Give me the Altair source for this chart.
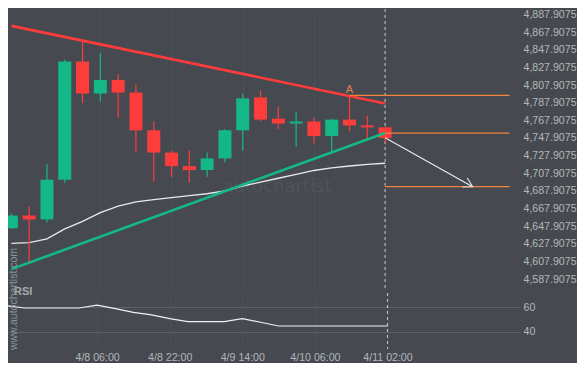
import altair as alt
import pandas as pd

# ---------------- data ----------------
idx = list(range(22))
opens  = [4645.6, 4659.9, 4655.5, 4700.5, 4834.6, 4798.3, 4813.7, 4799.4, 4756.6, 4731.3, 4715.9,
          4711.5, 4724.7, 4756.6, 4793.9, 4769.8, 4764.3, 4766.5, 4750.0, 4768.7, 4762.1, 4759.9]
highs  = [4662.1, 4669.8, 4718.1, 4836.8, 4857.7, 4844.5, 4820.3, 4808.2, 4766.5, 4733.5, 4733.5,
          4731.3, 4757.7, 4798.3, 4801.6, 4783.0, 4777.5, 4770.9, 4769.8, 4796.1, 4773.1, 4759.9]
lows   = [4644.5, 4607.1, 4652.2, 4697.2, 4787.4, 4789.5, 4770.9, 4731.3, 4698.3, 4703.8, 4697.2,
          4703.8, 4720.3, 4733.5, 4766.5, 4757.7, 4737.9, 4741.2, 4732.4, 4755.5, 4746.7, 4742.3]
closes = [4659.9, 4655.5, 4700.5, 4834.6, 4798.3, 4813.7, 4799.4, 4756.6, 4731.3, 4715.9, 4711.5,
          4724.7, 4756.6, 4792.8, 4768.7, 4764.3, 4766.5, 4750.0, 4768.7, 4762.1, 4759.9, 4747.8]
ma     = [4628.3, 4629.1, 4633.5, 4644.8, 4653.3, 4663.2, 4670.5, 4675.3, 4678.0, 4680.2, 4682.4,
          4684.6, 4687.9, 4693.4, 4697.8, 4702.2, 4706.6, 4711.0, 4713.9, 4716.1, 4717.9, 4719.2]
rsi    = [61.5, 59.6, 59.6, 59.6, 59.6, 62.0, 59.0, 56.0, 53.8, 50.7, 48.2,
          48.2, 48.2, 50.7, 47.7, 44.6, 44.6, 44.6, 44.6, 44.6, 44.6, 44.6]

tick_idx = [5, 9, 13, 17, 21]
tick_labels = ["4/8 06:00", "4/8 22:00", "4/9 14:00", "4/10 06:00", "4/11 02:00"]
price_ticks = [4587.9075 + 20 * k for k in range(16)]
rsi_ticks = [40, 60]

res_x = [0, 21]
res_y = [4875.0, 4787.0]
sup_x = [0, 21]
sup_y = [4599.1, 4753.6]

level_x = [19, 21, 21]
level_x2 = [28.0, 28.0, 28.0]
level_y = [4796.1, 4753.3, 4692.8]

arrow_x = [21, 25.92]
arrow_y = [4748.1, 4692.5]

now_idx = [21]
pattern_label = ["A"]
pattern_x = [19]
pattern_y = [4796.1]

# ---------------- styling ----------------
BG = "#464a50"
GREEN = "#14b886"
RED = "#fd3c3c"
ORANGE = "#f2823c"
LABEL = "#b3b6ba"
FONT = "Liberation Sans"
X_DOMAIN = [0.091, 28.3]
P_DOMAIN = [4574.31, 4894.15]
R_DOMAIN = [25.42, 72.08]
W = 512

df = pd.DataFrame(dict(i=idx, open=opens, high=highs, low=lows, close=closes, ma=ma, rsi=rsi))
df["dir"] = ["up" if c >= o else "down" for o, c in zip(opens, closes)]
df["btop"] = [max(o, c) for o, c in zip(opens, closes)]
df["bbot"] = [min(o, c) for o, c in zip(opens, closes)]

xs = alt.Scale(domain=X_DOMAIN, nice=False, zero=False)
ps = alt.Scale(domain=P_DOMAIN, nice=False, zero=False)
rs = alt.Scale(domain=R_DOMAIN, nice=False, zero=False)

x_price_axis = alt.Axis(values=tick_idx, grid=True, gridColor="#4c5056", labels=False,
                        ticks=False, domain=False, title=None)
y_price_axis = alt.Axis(orient="right", values=price_ticks, format=",.4f", grid=False,
                        ticks=False, domain=False, title=None, labelColor=LABEL,
                        labelFont=FONT, labelFontSize=10.6, labelPadding=3)


def PX(field="i"):
    return alt.X(f"{field}:Q", scale=xs, axis=x_price_axis)


def PY(field):
    return alt.Y(f"{field}:Q", scale=ps, axis=y_price_axis)


color = alt.Color("dir:N", scale=alt.Scale(domain=["up", "down"], range=[GREEN, RED]), legend=None)

base = alt.Chart(df)

wm = alt.Chart(pd.DataFrame({"t": ["autochartist"]})).mark_text(
    font="DejaVu Sans", fontSize=18, color="#4f5359", align="center", baseline="middle"
).encode(text="t:N", x=alt.value(269), y=alt.value(178))

now_rule = alt.Chart(pd.DataFrame({"i": now_idx})).mark_rule(
    color="#c9c9c9", strokeDash=[3, 3], strokeWidth=1
).encode(x=PX())

ma_line = base.mark_line(color="#e8e8e8", strokeWidth=1.3, clip=True).encode(x=PX(), y=PY("ma"))

wicks = base.mark_rule(strokeWidth=1.2, clip=True).encode(x=PX(), y=PY("low"), y2="high:Q", color=color)
bodies = base.mark_bar(size=13, clip=True).encode(x=PX(), y=PY("bbot"), y2="btop:Q", color=color)

res = alt.Chart(pd.DataFrame({"i": res_x, "v": res_y})).mark_line(
    color="#ff3b3b", strokeWidth=2.6, clip=True).encode(x=PX(), y=PY("v"))
sup = alt.Chart(pd.DataFrame({"i": sup_x, "v": sup_y})).mark_line(
    color=GREEN, strokeWidth=2.6, clip=True).encode(x=PX(), y=PY("v"))

levels = alt.Chart(pd.DataFrame({"i": level_x, "i2": level_x2, "v": level_y})).mark_rule(
    color=ORANGE, strokeWidth=1.3).encode(x=PX(), x2="i2:Q", y=PY("v"))

arrow = alt.Chart(pd.DataFrame({"i": arrow_x, "v": arrow_y})).mark_line(
    color="#ececec", strokeWidth=1.1).encode(x=PX(), y=PY("v"))
arrow_head = alt.Chart(pd.DataFrame({"i": arrow_x[-1:], "v": arrow_y[-1:]})).mark_point(
    shape="M-2,-1.15L0,0L-2,1.15", filled=False, size=80, strokeWidth=1.1,
    color="#ececec", angle=29, opacity=1).encode(x=PX(), y=PY("v"))

a_label = alt.Chart(pd.DataFrame({"i": pattern_x, "v": pattern_y, "t": pattern_label})).mark_text(
    color="#e0844f", font=FONT, fontSize=11, baseline="alphabetic", dy=-2, align="center"
).encode(x=PX(), y=PY("v"), text="t:N")

price = alt.layer(wm, now_rule, ma_line, wicks, bodies, res, sup, levels, arrow, arrow_head, a_label
                  ).properties(width=W, height=282)

# ---------------- RSI panel ----------------
label_expr = " : ".join(f"datum.value == {t} ? '{l}'" for t, l in zip(tick_idx, tick_labels)) + " : ''"
x_rsi_axis = alt.Axis(values=tick_idx, labelExpr=label_expr, grid=True, gridColor="#4c5056",
                      ticks=False, domain=False, title=None, labelColor=LABEL, labelFont=FONT,
                      labelFontSize=10.6, labelPadding=3, labelAngle=0)
y_rsi_axis = alt.Axis(orient="right", values=rsi_ticks, grid=True, gridColor="#5e6267",
                      ticks=False, domain=False, title=None, labelColor=LABEL, labelFont=FONT,
                      labelFontSize=10.6, labelPadding=3)


def RX(field="i"):
    return alt.X(f"{field}:Q", scale=xs, axis=x_rsi_axis)


def RY(field):
    return alt.Y(f"{field}:Q", scale=rs, axis=y_rsi_axis)


rsi_line = base.mark_line(color="#f0f0f0", strokeWidth=1.2, clip=True).encode(x=RX(), y=RY("rsi"))
rsi_now = alt.Chart(pd.DataFrame({"i": now_idx})).mark_rule(
    color="#c9c9c9", strokeDash=[3, 3], strokeWidth=1).encode(x=RX())
rsi_title = alt.Chart(pd.DataFrame({"t": ["RSI"]})).mark_text(
    font=FONT, fontSize=11, fontWeight="bold", color="#a7aaae", align="left", baseline="middle"
).encode(text="t:N", x=alt.value(6), y=alt.value(-1))
site = alt.Chart(pd.DataFrame({"t": ["www.autochartist.com"]})).mark_text(
    font=FONT, fontSize=10.5, color="#8f9297", angle=270, align="center", baseline="middle"
).encode(text="t:N", x=alt.value(5.5), y=alt.value(6))

rsi_panel = alt.layer(rsi_now, rsi_line, rsi_title, site).properties(width=W, height=56)

chart = alt.vconcat(price, rsi_panel, spacing=2, bounds="flush").properties(
    background=BG, padding=0
).configure_view(stroke=None)

chart.save("out.html", embed_options={"renderer": "svg", "actions": False})
